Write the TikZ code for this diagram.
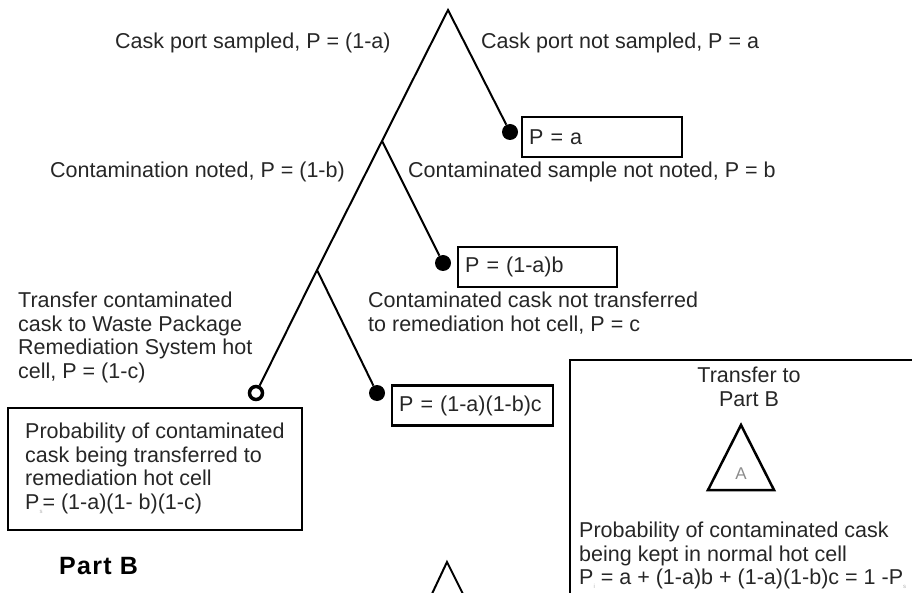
\documentclass[tikz,border=0pt]{standalone}
\usepackage{fontspec}
\setmainfont{Liberation Sans}
\newfontfamily\partfont[LetterSpace=5]{Liberation Sans}
\newcommand\gsub[1]{\raisebox{-4pt}{\fontsize{6}{6}\selectfont\color{black!30}#1}}
\tikzset{
  txt/.style={inner sep=0pt, anchor=north west, align=left,
    font=\fontsize{21.5}{23.5}\selectfont, text=black!85},
  leaf/.style={circle, fill=black, inner sep=0pt, minimum size=16pt},
  openleaf/.style={circle, draw=black, line width=3.5pt, fill=white, inner sep=0pt, minimum size=13pt},
  pbox/.style={draw=black, line width=2.2pt, inner ysep=0pt, inner xsep=7pt,
    minimum height=40pt, align=left, font=\fontsize{21.5}{24}\selectfont, text=black!85},
  frame/.style={draw=black, line width=2.2pt, inner sep=0pt},
  branch/.style={line width=2pt},
}
\begin{document}
\begin{tikzpicture}[x=1pt,y=-1pt]
\useasboundingbox (0,0) rectangle (912,593);
\clip (0,0) rectangle (912,593);
% tree points
\coordinate (apex) at (448,10);
\coordinate (n1) at (382,141);
\coordinate (n2) at (317,270);
\node[leaf] (d1) at (510,132) {};
\node[leaf] (d2) at (443,263) {};
\node[leaf] (d3) at (377,393) {};
\node[openleaf] (o) at (256,393) {};
% branches
\draw[branch] (d1) -- (apex) -- (n1) -- (n2) -- (o);
\draw[branch] (n1) -- (d2);
\draw[branch] (n2) -- (d3);
% outcome boxes
\node[pbox, text width=146pt] (ba) at (602,137) {P = a};
\node[pbox, text width=145pt] (bb) at (537.5,267) {P = (1-a)b};
\node[pbox, text width=147pt] (bc) at (472.5,405.5) {P = (1-a)(1-b)c};
\node[frame, minimum width=294pt, minimum height=122pt] (bs) at (155,469) {};
\node[txt] (bst) at (25,423)
  {Probability of contaminated\\cask being transferred to\\remediation hot cell\\P\gsub{s}= (1-a)(1- b)(1-c)};
% branch labels
\node[txt] (l1) at (115,33) {Cask port sampled, P = (1-a)};
\node[txt] (l2) at (481,33) {Cask port not sampled, P = a};
\node[txt] (l3) at (50,162) {Contamination noted, P = (1-b)};
\node[txt] (l4) at (408,162) {Contaminated sample not noted, P = b};
\node[txt] (l5) at (18,292) {Transfer contaminated\\cask to Waste Package\\Remediation System hot\\cell, P = (1-c)};
\node[txt] (l6) at (368,292) {Contaminated cask not transferred\\to remediation hot cell, P = c};
% right box (transfer to Part B)
\node[frame, anchor=north west, minimum width=400pt, minimum height=300pt] (rb) at (569,359) {};
\node[txt, anchor=north, align=center] (tt) at (749,367) {Transfer to\\Part B};
\draw[line width=2.5pt, line join=miter] (741,425) -- (708,490) -- (774,490) -- cycle;
\node[inner sep=0pt, font=\fontsize{17}{17}\selectfont, text=black!45] (ta) at (741,474) {A};
\node[txt] (pk) at (579,522) {Probability of contaminated cask\\being kept in normal hot cell\\P\gsub{i} = a + (1-a)b + (1-a)(1-b)c = 1 -P\gsub{s}};
% Part B
\node[inner sep=0pt, anchor=base west, font=\partfont\bfseries\fontsize{25}{25}\selectfont] (pb) at (59,574) {Part B};
\draw[line width=2pt] (430,598) -- (447,562) -- (465,598);
\end{tikzpicture}
\end{document}
